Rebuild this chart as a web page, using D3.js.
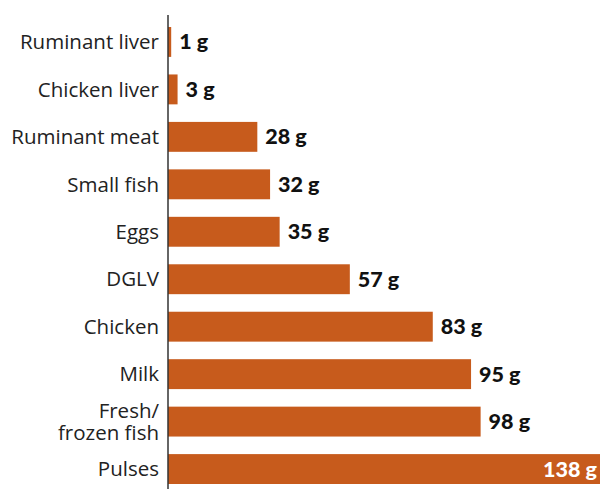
<head>
	<script src="https://d3js.org/d3.v7.min.js"></script>
	<style type="text/css">
		body { margin: 0; background: #fff; }
		.label { font-family: 'Open Sans', sans-serif; font-size: 20.5px; fill: #222; }
		.value { font-family: 'Lato', sans-serif; font-weight: 900; font-size: 21.5px; fill: #111; }
	</style>
</head>
<body>
	<script type="text/javascript">
		const foods = ['Ruminant liver', 'Chicken liver', 'Ruminant meat', 'Small fish', 'Eggs', 'DGLV', 'Chicken', 'Milk', 'Fresh/\nfrozen fish', 'Pulses']
		const grams = [1, 3, 28, 32, 35, 57, 83, 95, 98, 138]

		const width = 600, height = 489
		const axisX = 168

		const svg = d3.select('body').append('svg')
				.attr('width', width)
				.attr('height', height)

		const x = d3.scaleLinear()
			.domain([0, 138])
			.range([axisX, axisX + 138 * 3.19])

		const y = d3.scaleBand()
			.domain(foods)
			.range([27, 484])
			.paddingInner(0.37)

		const data = foods.map((f, i) => ({food: f, g: grams[i]}))

		svg.selectAll('rect')
			.data(data)
			.enter()
			.append('rect')
				.attr('x', x(0))
				.attr('y', d => y(d.food))
				.attr('width', d => x(d.g) - x(0))
				.attr('height', y.bandwidth())
				.style('fill', '#c75b1c')

		// category labels, some split over two lines
		const labels = svg.selectAll('text.label')
			.data(data)
			.enter()
			.append('text')
				.attr('class', 'label')
				.attr('text-anchor', 'end')
				.attr('transform', d => 'translate(' + (axisX - 9) + ',' + (y(d.food) + y.bandwidth() / 2) + ')')
		labels.each(function(d) {
			const lines = d.food.split('\n')
			const t = d3.select(this)
			lines.forEach((l, i) => {
				t.append('tspan')
					.attr('x', 0)
					.attr('y', (i - (lines.length - 1) / 2) * 22)
					.attr('dy', '0.35em')
					.text(l)
			})
		})

		svg.selectAll('text.value')
			.data(data)
			.enter()
			.append('text')
				.attr('class', 'value')
				.attr('y', d => y(d.food) + y.bandwidth() / 2)
				.attr('dy', '0.35em')
				.attr('x', d => x(d.g) + 50 > width ? width - 3 : x(d.g) + 8)
				.attr('text-anchor', d => x(d.g) + 50 > width ? 'end' : 'start')
				.style('fill', d => x(d.g) + 50 > width ? '#fff' : '#111')
				.text(d => d.g + ' g')

		svg.append('line')
			.attr('x1', axisX).attr('x2', axisX)
			.attr('y1', 15).attr('y2', height)
			.style('stroke', '#333')
			.style('stroke-width', 1.5)
	</script>
</body>
